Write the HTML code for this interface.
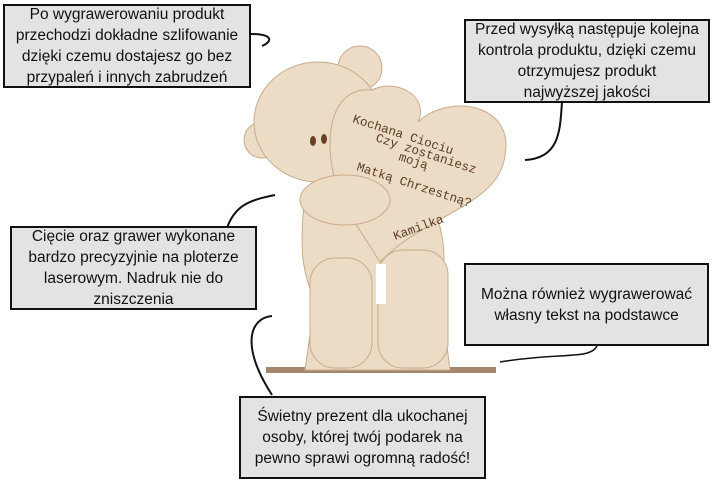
<!DOCTYPE html>
<html><head><meta charset="utf-8"><style>
body{margin:0;width:720px;height:489px;background:#fff;position:relative;overflow:hidden;font-family:"Liberation Sans",sans-serif;}
.b{position:absolute;box-sizing:border-box;border:2px solid #111;background:#e3e3e3;color:#111;font-size:15.5px;line-height:21px;text-align:center;display:flex;align-items:center;justify-content:center;white-space:nowrap;}
svg{position:absolute;left:0;top:0}
</style></head><body>
<svg width="720" height="489" viewBox="0 0 720 489">
<g fill="none" stroke="#111" stroke-width="2">
<path d="M251,34 C270,34 275,40 262,46"/>
<path d="M562,102 C560,130 560,158 525,160"/>
<path d="M227,228 C235,205 250,200 275,195"/>
<path d="M597,346 C590,360 560,352 500,362" stroke-width="1.5"/>
<path d="M272,316 C250,318 240,345 272,395"/>
</g>
<rect x="266" y="367" width="230" height="6" fill="#a4866a"/>
<g fill="#ecdcc6" stroke="#c9ab8a" stroke-width="1">
<circle cx="360" cy="68" r="22"/>
<circle cx="262" cy="140" r="18"/>
<ellipse cx="318" cy="122" rx="64" ry="60"/>
<path d="M305,195 C300,240 300,270 315,300 L305,370 L450,370 L440,290 C450,250 440,210 420,190 Z"/>
<rect x="310" y="258" width="62" height="110" rx="25"/>
<rect x="378" y="250" width="70" height="118" rx="25"/>
<path d="M372,90 C395,78 430,95 418,122 C450,92 515,105 505,155 C500,205 425,215 380,262 C355,222 330,190 330,145 C330,100 352,88 372,90 Z"/>
<ellipse cx="345" cy="200" rx="45" ry="25"/>
</g>
<rect x="376" y="264" width="10" height="40" fill="#fff"/>
<ellipse cx="313" cy="141" rx="3" ry="5" fill="#6b3f22"/>
<ellipse cx="324" cy="139" rx="3" ry="5" fill="#6b3f22"/>
<g fill="#5a3a22" font-family="'Liberation Mono',monospace" font-size="12.5">
<text x="352" y="122" transform="rotate(18 352 122)">Kochana Ciociu</text>
<text x="375" y="141" transform="rotate(18 375 141)">Czy zostaniesz</text>
<text x="398" y="160" transform="rotate(18 398 160)">moją</text>
<text x="356" y="170" transform="rotate(18 356 170)">Matką Chrzestną?</text>
<text x="395" y="240" transform="rotate(-20 395 240)">Kamilka</text>
</g>
</svg>
<div class="b" style="left:3px;top:4px;width:248px;height:84px">Po wygrawerowaniu produkt<br>przechodzi dokładne szlifowanie<br>dzięki czemu dostajesz go bez<br>przypaleń i innych zabrudzeń</div>
<div class="b" style="left:464px;top:19px;width:246px;height:84px">Przed wysyłką następuje kolejna<br>kontrola produktu, dzięki czemu<br>otrzymujesz produkt<br>najwyższej jakości</div>
<div class="b" style="left:10px;top:226px;width:247px;height:84px">Cięcie oraz grawer wykonane<br>bardzo precyzyjnie na ploterze<br>laserowym. Nadruk nie do<br>zniszczenia</div>
<div class="b" style="left:464px;top:263px;width:245px;height:83px">Można również wygrawerować<br>własny tekst na podstawce</div>
<div class="b" style="left:239px;top:396px;width:247px;height:83px">Świetny prezent dla ukochanej<br>osoby, której twój podarek na<br>pewno sprawi ogromną radość!</div>
</body></html>
